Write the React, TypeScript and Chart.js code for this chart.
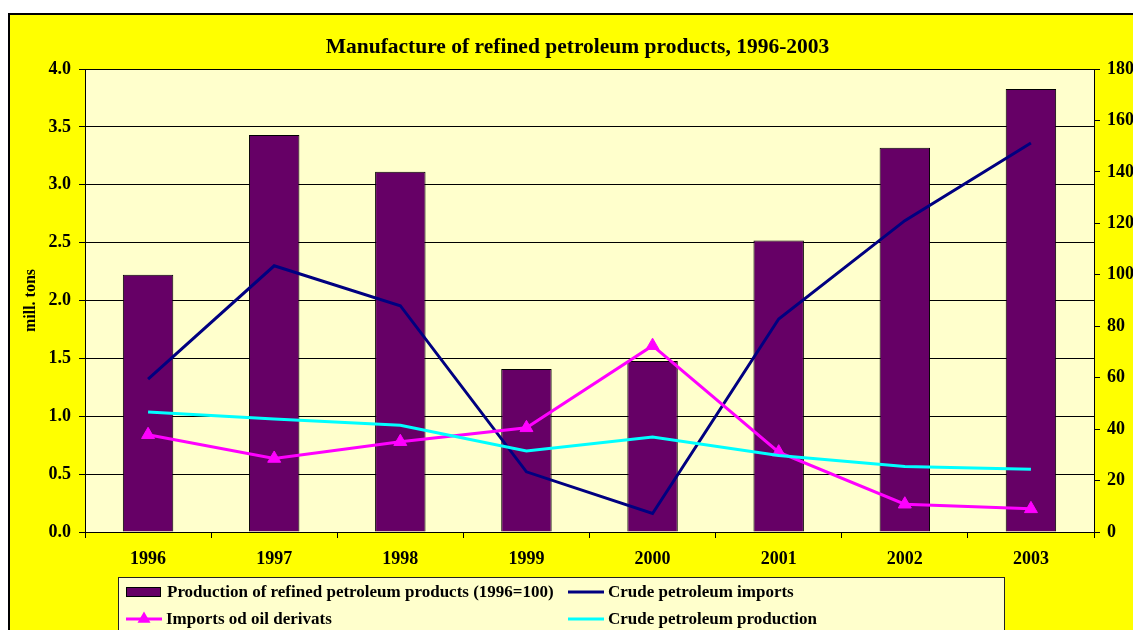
import React, { useEffect, useRef } from "react";
import { Chart, registerables } from "chart.js";

Chart.register(...registerables);

// ---------- data ----------
const years = ["1996", "1997", "1998", "1999", "2000", "2001", "2002", "2003"];
const refinedProductionIndex = [100, 154.3, 140.1, 63.4, 66.5, 113.3, 149.4, 172.2];
const crudeImports = [1.32, 2.3, 1.955, 0.52, 0.16, 1.84, 2.69, 3.36];
const oilDerivativeImports = [0.84, 0.635, 0.78, 0.9, 1.61, 0.69, 0.24, 0.2];
const crudeProduction = [1.037, 0.976, 0.922, 0.7, 0.82, 0.66, 0.565, 0.542];

const seriesLabels = [
  "Production of refined petroleum products (1996=100)",
  "Crude petroleum imports",
  "Imports od oil derivats",
  "Crude petroleum production",
];
const chartTitle = "Manufacture of refined petroleum products, 1996-2003";
const leftAxisTitle = "mill. tons";
const leftAxisMax = 4;
const leftAxisStep = 0.5;
const rightAxisMax = 180;
const rightAxisStep = 20;

// ---------- styles ----------
const FONT = "'Times New Roman', 'Liberation Serif', serif";
const BAR_COLOR = "#660066";
const NAVY = "#000080";
const MAGENTA = "#FF00FF";
const CYAN = "#00FFFF";
const PLOT_BG = "#FFFFCC";
const FRAME_BG = "#FFFF00";

const CANVAS_W = 1155;
const CANVAS_H = 650;

const framePlugin = {
  id: "frame",
  beforeDraw(chart: any) {
    const { ctx, width, height, chartArea } = chart;
    ctx.save();
    ctx.fillStyle = "#ffffff";
    ctx.fillRect(0, 0, width, height);
    ctx.fillStyle = FRAME_BG;
    ctx.fillRect(8, 13, width - 8, height - 13);
    ctx.strokeStyle = "#000";
    ctx.lineWidth = 2;
    ctx.beginPath();
    ctx.moveTo(9, height);
    ctx.lineTo(9, 14);
    ctx.lineTo(width, 14);
    ctx.stroke();
    ctx.fillStyle = PLOT_BG;
    ctx.fillRect(
      chartArea.left,
      chartArea.top,
      chartArea.right - chartArea.left,
      chartArea.bottom - chartArea.top
    );
    ctx.restore();
  },
  afterDraw(chart: any) {
    const { ctx } = chart;
    const ds = chart.data.datasets;
    ctx.save();
    // legend box
    const bx = 118.5;
    const by = 577.5;
    const br = 1004.5;
    ctx.fillStyle = PLOT_BG;
    ctx.fillRect(bx, by, br - bx, 80);
    ctx.strokeStyle = "#222";
    ctx.lineWidth = 1;
    ctx.strokeRect(bx, by, br - bx, 80);

    const cols = [126, 568];
    const rows = [592, 619];
    const order = [0, 1, 2, 3];
    ctx.font = `bold 17px ${FONT}`;
    ctx.textBaseline = "middle";
    ctx.textAlign = "left";
    order.forEach((i, k) => {
      const x = cols[k % 2];
      const y = rows[Math.floor(k / 2)];
      const d = ds[i];
      let textX = x + 40;
      if (d.type === "bar") {
        ctx.fillStyle = d.backgroundColor;
        ctx.fillRect(x, y - 5, 35, 10);
        ctx.strokeStyle = "#000";
        ctx.lineWidth = 1;
        ctx.strokeRect(x + 0.5, y - 4.5, 34, 9);
        textX = x + 41;
      } else {
        ctx.strokeStyle = d.borderColor;
        ctx.lineWidth = 3;
        ctx.beginPath();
        ctx.moveTo(x, y);
        ctx.lineTo(x + 36, y);
        ctx.stroke();
        if (d.pointStyle === "triangle") {
          const cx = x + 18;
          const r = 7.5;
          ctx.fillStyle = d.borderColor;
          ctx.beginPath();
          ctx.moveTo(cx, y - r);
          ctx.lineTo(cx + r * 0.866, y + r * 0.5);
          ctx.lineTo(cx - r * 0.866, y + r * 0.5);
          ctx.closePath();
          ctx.fill();
        }
      }
      ctx.fillStyle = "#000";
      ctx.fillText(d.label, textX, y + 1);
    });
    ctx.restore();
  },
};

export default function App() {
  const canvasRef = useRef<HTMLCanvasElement | null>(null);

  useEffect(() => {
    const canvas = canvasRef.current;
    if (!canvas) return;
    const tickFont = { family: FONT, size: 18, weight: "bold" as const };

    const chart = new Chart(canvas, {
      data: {
        labels: years,
        datasets: [
          {
            type: "bar" as const,
            label: seriesLabels[0],
            data: refinedProductionIndex,
            yAxisID: "y2",
            backgroundColor: BAR_COLOR,
            borderColor: "#000",
            borderWidth: 1,
            barPercentage: 0.4,
            categoryPercentage: 1,
            order: 10,
          },
          {
            type: "line" as const,
            label: seriesLabels[1],
            data: crudeImports,
            yAxisID: "y",
            borderColor: NAVY,
            backgroundColor: NAVY,
            borderWidth: 3,
            pointRadius: 0,
            tension: 0,
            order: 3,
          },
          {
            type: "line" as const,
            label: seriesLabels[2],
            data: oilDerivativeImports,
            yAxisID: "y",
            borderColor: MAGENTA,
            backgroundColor: MAGENTA,
            borderWidth: 3,
            pointStyle: "triangle",
            pointRadius: 7.5,
            pointBorderWidth: 1,
            tension: 0,
            order: 2,
          },
          {
            type: "line" as const,
            label: seriesLabels[3],
            data: crudeProduction,
            yAxisID: "y",
            borderColor: CYAN,
            backgroundColor: CYAN,
            borderWidth: 3,
            pointRadius: 0,
            tension: 0,
            order: 1,
          },
        ],
      } as any,
      options: {
        responsive: false,
        animation: false,
        devicePixelRatio: 1,
        layout: { padding: 0 },
        plugins: {
          legend: { display: false },
          tooltip: { enabled: false },
          title: {
            display: true,
            text: chartTitle,
            color: "#000",
            font: { family: FONT, size: 21.5, weight: "bold" },
            padding: { top: 35, bottom: 8.2 },
          },
        },
        scales: {
          x: {
            type: "category",
            offset: true,
            grid: {
              offset: true,
              drawOnChartArea: false,
              drawTicks: true,
              tickLength: 6,
              color: "#000",
            },
            border: { display: true, color: "#000", width: 1 },
            ticks: {
              font: tickFont,
              color: "#000",
              padding: 11,
              maxRotation: 0,
              autoSkip: false,
            },
            afterFit: (s: any) => {
              s.height = CANVAS_H - 532;
            },
          },
          y: {
            type: "linear",
            position: "left",
            min: 0,
            max: leftAxisMax,
            grid: { color: "#000", tickLength: 6, drawTicks: true },
            border: { display: true, color: "#000", width: 1 },
            ticks: {
              stepSize: leftAxisStep,
              font: tickFont,
              color: "#000",
              padding: 8,
              callback: (v: any) => Number(v).toFixed(1),
            },
            title: {
              display: true,
              text: leftAxisTitle,
              color: "#000",
              font: { family: FONT, size: 16, weight: "bold" },
              padding: { top: 21, bottom: 0 },
            },
            afterFit: (s: any) => {
              s.width = 85;
            },
          },
          y2: {
            type: "linear",
            position: "right",
            min: 0,
            max: rightAxisMax,
            grid: {
              drawOnChartArea: false,
              drawTicks: true,
              tickLength: 6,
              color: "#000",
            },
            border: { display: true, color: "#000", width: 1 },
            ticks: {
              stepSize: rightAxisStep,
              font: tickFont,
              color: "#000",
              padding: 7,
              callback: (v: any) => String(v),
            },
            afterFit: (s: any) => {
              s.width = CANVAS_W - 1094;
            },
          },
        },
      } as any,
      plugins: [framePlugin],
    });
    return () => chart.destroy();
  }, []);

  return (
    <div
      style={{
        position: "fixed",
        left: 0,
        top: 0,
        width: 1133,
        height: 630,
        overflow: "hidden",
        background: "#fff",
      }}
    >
      <canvas
        ref={canvasRef}
        width={CANVAS_W}
        height={CANVAS_H}
        style={{ display: "block", width: CANVAS_W, height: CANVAS_H }}
      />
    </div>
  );
}
